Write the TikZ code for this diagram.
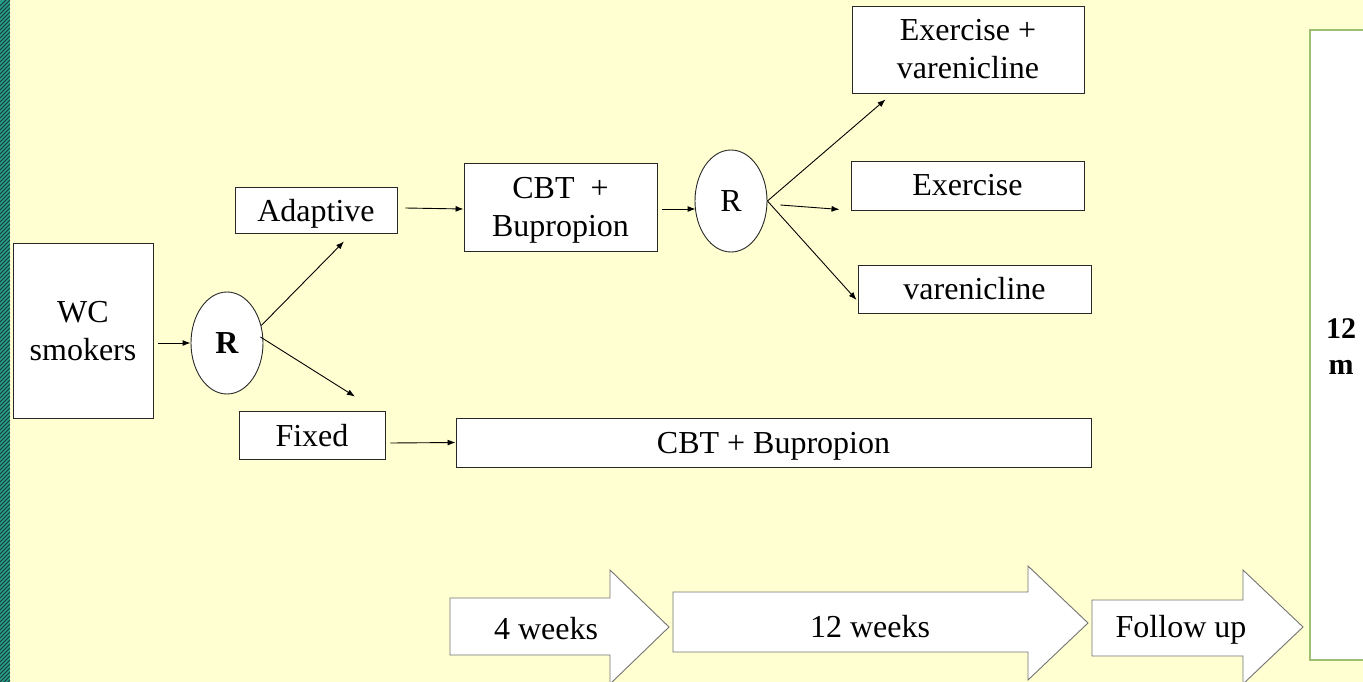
\documentclass[tikz,border=0pt]{standalone}
\usepackage{fontspec}
\setmainfont{Liberation Serif}
\usetikzlibrary{arrows.meta,shapes.geometric}
\definecolor{paper}{RGB}{255,255,210}
\definecolor{teal1}{RGB}{38,155,135}
\definecolor{teal2}{RGB}{28,58,58}
\definecolor{leaf}{RGB}{160,190,115}
\definecolor{edge}{RGB}{40,40,40}
\begin{document}
\begin{tikzpicture}[x=1pt,y=-1pt,
  txt/.style={font=\fontsize{32}{38}\selectfont, align=center},
  box/.style={txt, draw=edge, line width=0.9pt, fill=white, inner sep=0pt},
  rnode/.style={ellipse, draw=edge, line width=0.9pt, fill=white, inner sep=0pt,
    minimum width=72pt, minimum height=102pt, font=\fontsize{32}{38}\selectfont},
  arr/.style={-{Latex[length=8pt,width=6pt]}, line width=0.9pt, black},
  blockarrow/.style={draw=black!55, line width=0.9pt, fill=white, line join=miter}]
\useasboundingbox (0,0) rectangle (1363,682);
\begin{scope}
\clip (0,0) rectangle (1363,682);
\fill[paper] (0,0) rectangle (1363,682);
% striped edge on the left
\fill[teal1] (0,0) rectangle (10,682);
\begin{scope}
\clip (0,0) rectangle (10,682);
\foreach \k in {-4,0,...,700}
  \draw[teal2, line width=0.9pt] (0,\k+10) -- (10,\k);
\end{scope}

% follow-up column
\node[draw=leaf, line width=1.2pt, fill=white, minimum width=70pt, minimum height=630pt,
      inner sep=0pt] (tail) at (1345,345) {};
\node[font=\fontsize{30}{36}\selectfont\bfseries, align=center] (tm) at (1341,347) {12\\m};

% timeline arrows
\draw[blockarrow] (450,598) -- (610,598) -- (610,570) -- (669,627) -- (610,684)
  -- (610,655) -- (450,655) -- cycle;
\node[txt] (w4) at (546,629) {4 weeks};
\draw[blockarrow] (673,592) -- (1028,592) -- (1028,566) -- (1088,623) -- (1028,680)
  -- (1028,652) -- (673,652) -- cycle;
\node[txt] (w12) at (870,627) {12 weeks};
\draw[blockarrow] (1092,600) -- (1243,600) -- (1243,570) -- (1303,627) -- (1243,684)
  -- (1243,656) -- (1092,656) -- cycle;
\node[txt] (fu) at (1181,630) {Follow up};
\end{scope}

% study flow
\node[box, minimum width=140pt, minimum height=175pt, text depth=0pt] (wc) at (83,330.5) {WC\\smokers};
\node[rnode, font=\fontsize{32}{38}\selectfont\bfseries] (r1) at (227,343) {R};
\node[box, minimum width=162pt, minimum height=46pt, text depth=0pt] (adaptive) at (316,210) {Adaptive};
\node[box, minimum width=146pt, minimum height=48pt, text depth=0pt] (fixed) at (312,435) {Fixed};
\node[box, minimum width=193pt, minimum height=88pt, text depth=0pt] (cbt1) at (560.5,207) {CBT~~+\\Bupropion};
\node[rnode] (r2) at (731,201) {R};
\node[box, minimum width=232pt, minimum height=87pt] (exvar) at (968,49.5) {Exercise +\\varenicline};
\node[box, minimum width=233pt, minimum height=49pt] (exercise) at (967.5,185.5) {Exercise};
\node[box, minimum width=233pt, minimum height=48pt] (varen) at (974.5,289) {varenicline};
\node[box, minimum width=635pt, minimum height=49pt, text depth=0pt] (cbt2) at (773.5,442.5) {CBT + Bupropion};

\draw[arr] ([xshift=5pt]wc.east |- r1.west) -- (r1.west);
\draw[arr] (r1.27) -- ([xshift=28pt,yshift=-8pt]adaptive.south);
\draw[arr] ([xshift=-3pt,yshift=6pt]r1.east) -- ([xshift=43pt,yshift=14pt]fixed.north);
\draw[arr] ([xshift=8pt,yshift=2pt]adaptive.east) -- ([yshift=-2pt]cbt1.west);
\draw[arr] ([xshift=5pt,yshift=-2pt]cbt1.east) -- ([xshift=1pt,yshift=-8pt]r2.west);
\draw[arr] (r2.east) -- ([xshift=34pt,yshift=-6pt]exvar.south west);
\draw[arr] ([xshift=13pt,yshift=-4pt]r2.east) -- ([xshift=-11pt,yshift=1pt]exercise.south west);
\draw[arr] (r2.east) -- ([xshift=-1pt,yshift=-11pt]varen.west);
\draw[arr] ([xshift=5pt,yshift=-8pt]fixed.east) -- (cbt2.west);
\end{tikzpicture}
\end{document}
